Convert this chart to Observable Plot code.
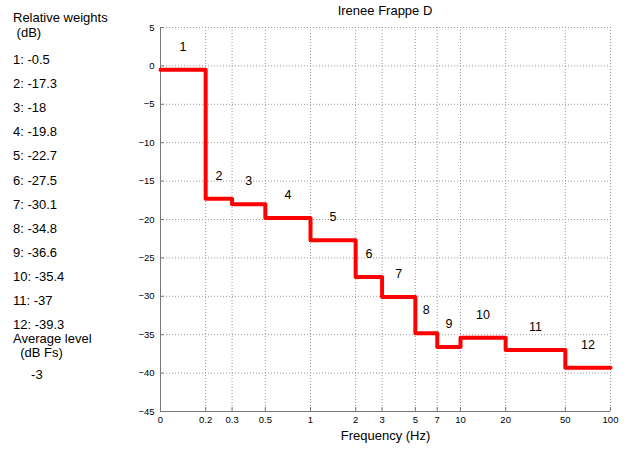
<!DOCTYPE html>
<html>
<head>
<meta charset="utf-8">
<script src="https://cdn.jsdelivr.net/npm/d3@7"></script>
<script src="https://cdn.jsdelivr.net/npm/@observablehq/plot@0.6"></script>
<style>
  html, body { margin: 0; padding: 0; background: #fff; }
  #wrap { position: relative; width: 627px; height: 453px; font-family: "Liberation Sans", Arial, sans-serif; }
  #legend { position: absolute; left: 13px; top: 0; font-size: 13px; color: #000; }
  #legend div { position: absolute; white-space: pre; left: 0; }
  #title { position: absolute; left: 160px; width: 450px; top: 3px; text-align: center; font-size: 13px; }
</style>
</head>
<body>
<div id="wrap">
  <div id="title">Irenee Frappe D</div>
  <div id="legend"></div>
</div>
<script>
const bandStarts = [0.1, 0.2, 0.3, 0.5, 1, 2, 3, 5, 7, 10, 20, 50];
const bandEnds   = [0.2, 0.3, 0.5, 1, 2, 3, 5, 7, 10, 20, 50, 100];
const weights    = [-0.5, -17.3, -18, -19.8, -22.7, -27.5, -30.1, -34.8, -36.6, -35.4, -37, -39.3];
const bandNames  = ["1","2","3","4","5","6","7","8","9","10","11","12"];
const xTicks      = [0.1, 0.2, 0.3, 0.5, 1, 2, 3, 5, 7, 10, 20, 50, 100];
const xTickLabels = ["0","0.2","0.3","0.5","1","2","3","5","7","10","20","50","100"];
const yTicks      = [-45, -40, -35, -30, -25, -20, -15, -10, -5, 0, 5];
const averageLevel = -3;

const leg = document.getElementById("legend");
function addLine(txt, top) {
  const d = document.createElement("div");
  d.textContent = txt; d.style.top = top + "px"; leg.appendChild(d);
}
addLine("Relative weights", 10);
addLine(" (dB)", 25);
weights.forEach((w, i) => addLine(bandNames[i] + ": " + w, 52 + i * 24.1));
addLine("Average level", 331);
addLine("  (dB Fs)", 345);
addLine("     " + averageLevel, 367);

const steps = bandStarts.map((s, i) => ({x: s, y: weights[i]}));
steps.push({x: bandEnds[bandEnds.length - 1], y: weights[weights.length - 1]});
const labels = bandStarts.map((s, i) => ({x: Math.sqrt(s * bandEnds[i]), y: weights[i] + 3, t: bandNames[i]}));
const xLabels = xTicks.map((v, i) => ({x: v, t: xTickLabels[i]}));

const chart = Plot.plot({
  width: 627, height: 453,
  marginLeft: 160, marginRight: 17, marginTop: 27, marginBottom: 42,
  style: {fontFamily: "Liberation Sans, Arial, sans-serif", background: "transparent"},
  x: {type: "log", domain: [0.1, 100]},
  y: {type: "linear", domain: [-45, 5]},
  marks: [
    Plot.gridX(xTicks, {stroke: "#999", strokeOpacity: 1, strokeDasharray: "1,2"}),
    Plot.gridY(yTicks, {stroke: "#999", strokeOpacity: 1, strokeDasharray: "1,2"}),
    Plot.axisX(xTicks, {tickFormat: () => "", tickSize: -4, label: null, stroke: "#777"}),
    Plot.text(xLabels, {x: "x", text: "t", frameAnchor: "bottom", dy: 11, fontSize: 9.5, fill: "#000"}),
    Plot.axisY(yTicks, {tickSize: -4, tickPadding: 10, fontSize: 9.5, label: null, stroke: "#777"}),
    Plot.ruleX([0.1], {stroke: "#777"}),
    Plot.ruleY([-45], {stroke: "#777"}),
    Plot.line(steps, {x: "x", y: "y", curve: "step-after", stroke: "#ff0000", strokeWidth: 4}),
    Plot.text(labels, {x: "x", y: "y", text: "t", fontSize: 12.5, fill: "#000"}),
    Plot.text(["Frequency (Hz)"], {frameAnchor: "bottom", dy: 28, fontSize: 13, fill: "#000"})
  ]
});
chart.style.position = "absolute";
chart.style.left = "0"; chart.style.top = "0";
document.getElementById("wrap").appendChild(chart);
</script>
</body>
</html>
